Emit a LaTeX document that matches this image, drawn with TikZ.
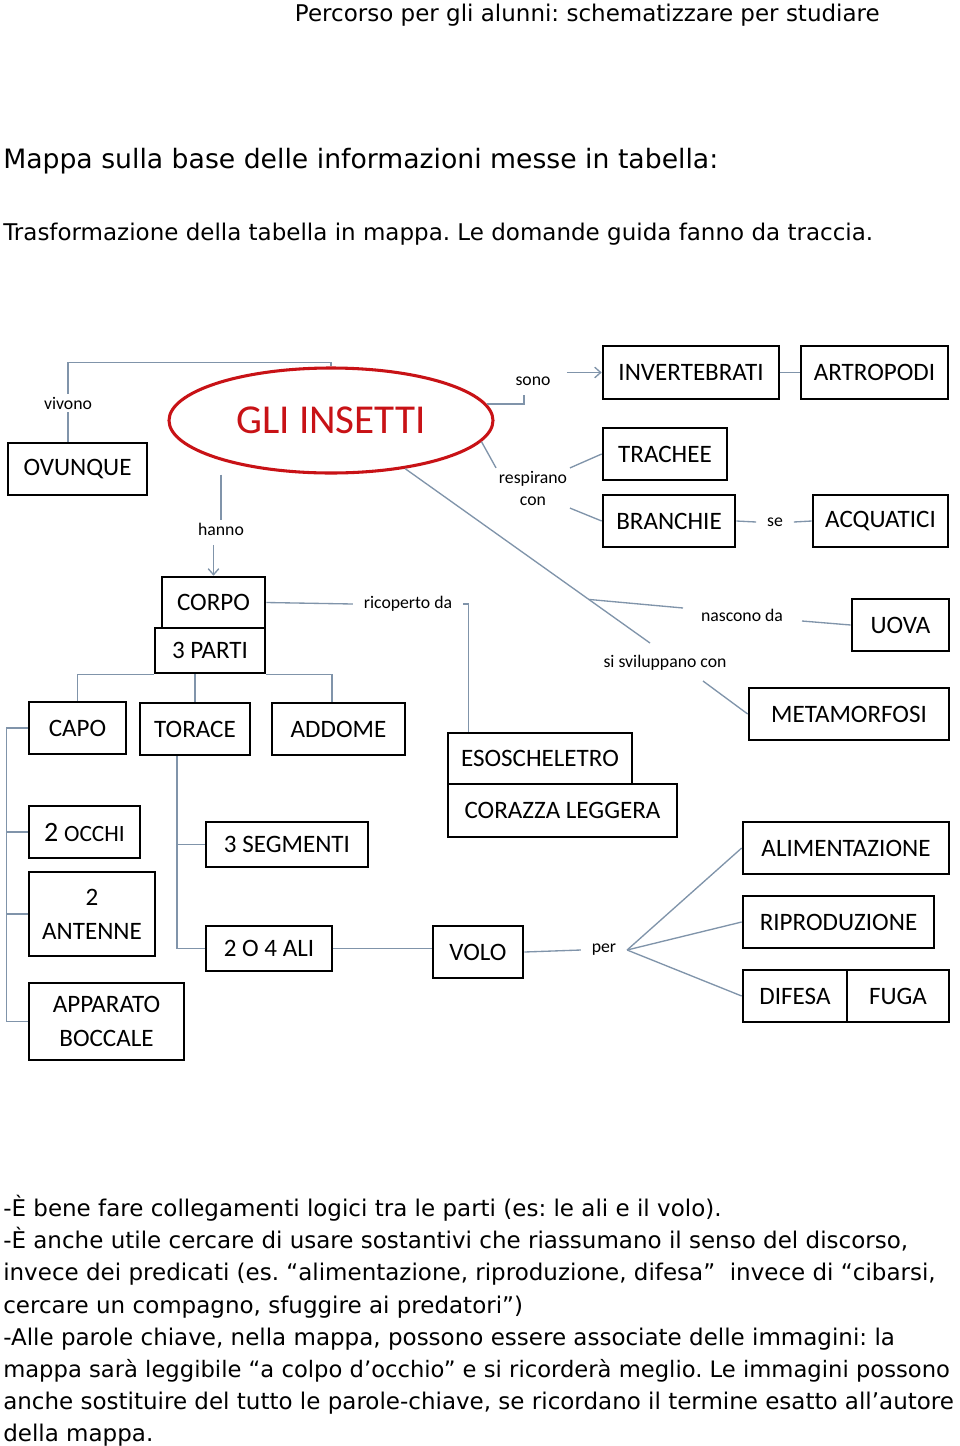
\documentclass[tikz,border=0pt]{standalone}
\usepackage{fontspec}
\setmainfont{DejaVu Sans}
\newfontfamily\calibri{Carlito}
\usepackage{tikz}
\usetikzlibrary{shapes.geometric,calc,arrows.meta,positioning}
\usepackage{xcolor}
\frenchspacing

\definecolor{linkgray}{RGB}{128,148,170}
\definecolor{insred}{RGB}{200,18,22}

\tikzset{
  cbox/.style={draw=black, line width=2pt, inner sep=0pt, align=center,
    font=\calibri\fontsize{18.8}{25.5}\selectfont},
  bx/.style 2 args={minimum width=#1*0.75pt, minimum height=#2*0.75pt},
  lbl/.style={inner sep=2pt, align=center, font=\calibri\fontsize{13.3}{16.5}\selectfont},
  link/.style={linkgray, line width=1pt},
  arr/.style={-{Straight Barb[length=4.5pt,width=8pt]}},
  ptext/.style={inner sep=0pt, font=\fontsize{17.25}{20}\selectfont}
}

\begin{document}
\begin{tikzpicture}[x=0.75pt, y=-0.75pt]
    \fill[white] (0,0) rectangle (960,1446);
    \useasboundingbox (0,0) rectangle (960,1446);

    % free ends of the links
    \coordinate (sonoend) at (524,395);
    \coordinate (svitop) at (650,643);
    \coordinate (nasin) at (683,608);
    \coordinate (nasout) at (802,621);
    \coordinate (sviout) at (703,681);

    % page text
    \node[ptext, anchor=base east] (ttl) at (880,21) {Percorso per gli alunni: schematizzare per studiare};
    \node[ptext, anchor=base west, font=\fontsize{20}{24}\selectfont] (map) at (3,168) {Mappa sulla base delle informazioni messe in tabella:};
    \node[ptext, anchor=base west] (trf) at (3,240) {Trasformazione della tabella in mappa. Le domande guida fanno da traccia.};

    % map
    \node[ellipse, draw=insred, line width=2.3pt, inner sep=0pt, minimum width=243pt, minimum height=78.75pt,
      text=insred, font=\calibri\fontsize{30.8}{34}\selectfont] (ins) at (331,420.5) {GLI INSETTI};

    \node[cbox, bx={139}{52}] (ovu) at (77.5,469) {OVUNQUE};
    \node[cbox, bx={176}{53}] (inv) at (691,372.5) {INVERTEBRATI};
    \node[cbox, bx={147}{53}] (art) at (874.5,372.5) {ARTROPODI};
    \node[cbox, bx={124}{52}] (tra) at (665,454) {TRACHEE};
    \node[cbox, bx={132}{52}] (bra) at (669,521) {BRANCHIE};
    \node[cbox, bx={135}{52}] (acq) at (880.5,521) {ACQUATICI};
    \node[cbox, bx={103}{51}] (cor) at (213.5,602.5) {CORPO};
    \node[cbox, bx={110}{45}] (par) at (210,650.5) {3 PARTI};
    \node[cbox, bx={97}{52}] (cap) at (77.5,728) {CAPO};
    \node[cbox, bx={110}{52}] (tor) at (195,729) {TORACE};
    \node[cbox, bx={133}{52}] (add) at (338.5,729) {ADDOME};
    \node[cbox, bx={184}{51}] (eso) at (540,758.5) {ESOSCHELETRO};
    \node[cbox, bx={229}{53}] (crz) at (562.5,810.5) {CORAZZA LEGGERA};
    \node[cbox, bx={97}{52}] (uov) at (900.5,625) {UOVA};
    \node[cbox, bx={200}{52}] (met) at (849,714) {METAMORFOSI};
    \node[cbox, bx={111}{52}] (occ) at (84.5,832) {{\fontsize{21}{24}\selectfont 2} {\fontsize{17.5}{20}\selectfont OCCHI}};
    \node[cbox, bx={126}{84}] (ant) at (92,914) {2\\ANTENNE};
    \node[cbox, bx={155}{77}] (app) at (106.5,1021.5) {APPARATO\\BOCCALE};
    \node[cbox, bx={162}{45}] (seg) at (287,844.5) {3 SEGMENTI};
    \node[cbox, bx={126}{45}] (ali) at (269,948.5) {2 O 4 ALI};
    \node[cbox, bx={90}{52}] (vol) at (478,952) {VOLO};
    \node[cbox, bx={206}{52}] (alm) at (846,848) {ALIMENTAZIONE};
    \node[cbox, bx={191}{52}] (rip) at (838.5,922) {RIPRODUZIONE};
    \node[cbox, bx={104}{52}] (dif) at (795,996) {DIFESA};
    \node[cbox, bx={102}{52}] (fug) at (898,996) {FUGA};

    \node[lbl] (viv) at (68,403) {vivono};
    \node[lbl] (han) at (221,529) {hanno};
    \node[lbl] (son) at (533,381) {sono};
    \node[lbl] (res) at (533,488) {respirano\\con};
    \node[lbl, inner xsep=8pt] (sel) at (775,522) {se};
    \node[lbl, inner xsep=8pt] (ric) at (408,604) {ricoperto da};
    \node[lbl] (nas) at (742,615) {nascono da};
    \node[lbl] (svi) at (665,663) {si sviluppano con};
    \node[lbl, inner xsep=8pt] (per) at (604,950) {per};

    % links
    \draw[link] (ins.north) -- ++(0,-4) -| (viv.north);
    \draw[link] (viv.south) -- (viv.south |- ovu.north);
    \draw[link] (han.north |- ins.south) -- (han.north);
    \draw[link, arr] ([yshift=-5pt]han.south -| cor.north) -- (cor.north);
    \draw[link] (ins.6) -| (sonoend);
    \draw[link, arr] ([xshift=10pt]son.east |- inv.west) -- (inv.west);
    \draw[link] (inv.east) -- (art.west);
    \draw[link] (ins.352) -- (res.north west);
    \draw[link] (res.north east) -- (tra.west);
    \draw[link] (res.south east) -- (bra.west);
    \draw[link] (bra.east) -- (sel.west);
    \draw[link] (sel.east) -- (acq.west);
    \draw[link] (cor.east) -- (ric.west);
    \draw[link] (ric.east) -| ([xshift=16.5pt]eso.north west);
    \draw[link] (cap.north) |- (par.south west);
    \draw[link] (par.south east) -| ([xshift=-5pt]add.north);
    \draw[link] (tor.north) -- (tor.north |- par.south);
    \draw[link] (cap.west) -- ++(-21,0) |- (app.west);
    \draw[link] (occ.west) -- ++(-21,0);
    \draw[link] (ant.west) -- ++(-21,0);
    \draw[link] ([xshift=-13.5pt]tor.south) |- (ali.west);
    \draw[link] (seg.west) -- ++(-29,0);
    \draw[link] (ali.east) -- (ali.east -| vol.west);
    \draw[link] (vol.east) -- (per.west);
    \draw[link] (per.east) -- (alm.west);
    \draw[link] (per.east) -- (rip.west);
    \draw[link] (per.east) -- (dif.west);
    \draw[link] (ins.327) -- (svitop);
    \draw[link] ($(ins.327)!0.75!(svitop)$) -- (nasin);
    \draw[link] (nasout) -- (uov.west);
    \draw[link] (sviout) -- (met.west);

    % notes under the map
    \node[ptext, anchor=base west] (n1) at (3,1216) {-È bene fare collegamenti logici tra le parti (es: le ali e il volo).};
    \node[ptext, anchor=base west] (n2) at (3,1248) {-È anche utile cercare di usare sostantivi che riassumano il senso del discorso,};
    \node[ptext, anchor=base west] (n3) at (3,1280) {invece dei predicati (es. “alimentazione, riproduzione, difesa”\ \ invece di “cibarsi,};
    \node[ptext, anchor=base west] (n4) at (3,1313) {cercare un compagno, sfuggire ai predatori”)};
    \node[ptext, anchor=base west] (n5) at (3,1345) {-Alle parole chiave, nella mappa, possono essere associate delle immagini: la};
    \node[ptext, anchor=base west, font=\fontsize{17}{20}\selectfont] (n6) at (3,1377) {mappa sarà leggibile “a colpo d’occhio” e si ricorderà meglio. Le immagini possono};
    \node[ptext, anchor=base west] (n7) at (3,1409) {anche sostituire del tutto le parole-chiave, se ricordano il termine esatto all’autore};
    \node[ptext, anchor=base west] (n8) at (3,1441) {della mappa.};
  \end{tikzpicture}
\end{document}
